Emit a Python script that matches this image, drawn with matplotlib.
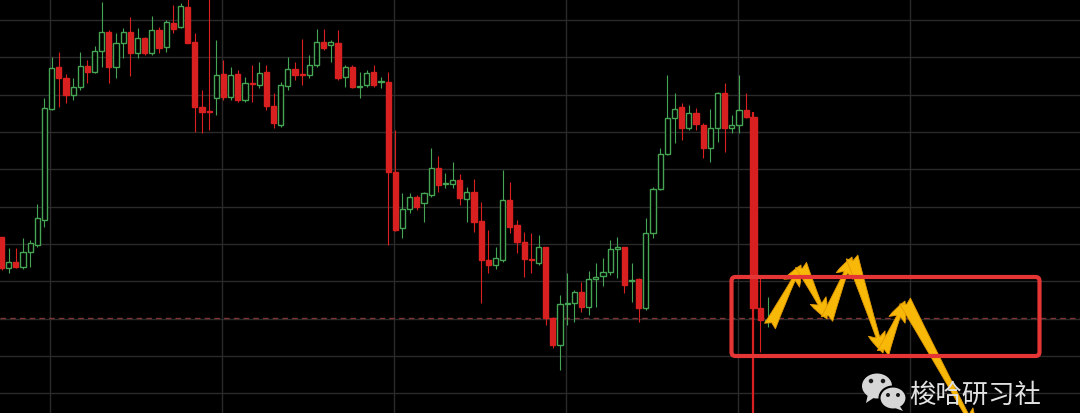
import matplotlib
matplotlib.use('Agg')
import matplotlib.pyplot as plt
from matplotlib.patches import Rectangle, FancyBboxPatch, Ellipse, Polygon
from matplotlib.transforms import IdentityTransform

# ---- data (price units, arbitrary scale) ----
opens = [176, 145, 151, 146, 161, 168, 193, 304, 346, 335,
         318, 326, 347, 341, 362, 381, 346, 370, 381, 360,
         375, 360, 383, 366, 390, 386, 406, 371, 306, 302,
         315, 339, 316, 339, 313, 330, 328, 341, 307, 288,
         327, 344, 339, 338, 348, 371, 368, 370, 336, 346,
         326.5, 328, 341, 331.5, 331, 241, 185, 204, 216, 210,
         218, 245, 229.5, 229, 233, 214, 221, 192, 153, 148,
         153, 213, 188, 171, 154.5, 150, 166, 95, 68, 109.5,
         110, 121, 106, 134, 137, 141, 164, 166, 132.5, 134,
         105, 180, 224, 259, 295, 306, 285, 300, 288, 265,
         285, 320, 285, 288, 303, 296, 105, 92.5]
highs = [176, 165, 165, 175, 173, 209, 315, 356, 361, 339,
         335, 361, 353, 367, 411, 383, 380, 385, 396, 385,
         376, 397, 386, 393, 408, 410, 415, 380, 323, 420,
         373, 353, 346, 343, 336, 348, 351, 348, 320, 331,
         356, 351, 374, 358, 384, 384, 373, 383, 348, 348,
         341, 343, 348, 336, 341, 283, 220, 220, 218, 221,
         265, 257, 240, 251, 239, 226, 234, 211, 183, 166,
         243, 231, 193, 181, 180, 178, 166, 96, 118, 140,
         123, 131, 142, 150, 155, 173, 176, 166, 150, 135,
         195, 226, 265, 338, 320, 310, 308, 305, 290, 304,
         321, 330, 298, 338, 320, 301, 135, 116]
lows = [143, 140, 145, 144, 146, 166, 186, 303, 306, 310,
        313, 323, 330, 340, 346, 330, 335, 355, 337, 355,
        358, 358, 360, 361, 380, 385, 370, 281, 280, 283,
        298, 313, 313, 311, 311, 311, 325, 303, 285, 286,
        323, 333, 328, 335, 346, 363, 351, 333, 326, 325,
        315, 326, 326, 325, 168, 182, 175, 200, 203, 191,
        216, 221, 225, 225, 208, 191, 181, 110, 140, 144,
        151, 180, 160, 136, 140, 148, 88, 65, 43, 88,
        91, 101, 98, 106, 127, 138, 135, 120, 111, 91,
        103, 175, 223, 258, 270, 273, 283, 283, 255, 251,
        271, 261, 280, 280, 295, -10, 61, 86]
closes = [145, 151, 146, 161, 170, 195, 305, 345, 335, 318,
          326, 347, 341, 362, 381, 346, 370, 381, 360, 375,
          360, 383, 365, 391, 384, 407, 370, 306, 301, 301,
          338, 316, 338, 313, 330, 329, 340, 307, 290, 328,
          344, 338, 338, 348, 371, 365, 371, 335, 346, 326,
          327.5, 340, 328, 332.5, 241, 183, 204, 216, 206, 220,
          245, 228, 230.5, 233, 215, 221, 191, 153, 148, 155,
          213, 186, 171, 154, 153.5, 166, 95, 68, 109, 110.5,
          121, 106, 134, 136, 141, 164, 166, 128, 133.5, 105,
          180, 224, 259, 295, 304, 285, 300, 289, 265, 285,
          320, 285, 288, 303, 296, 105, 93, 93.5]
support_level = 95
watermark = '梭哈研习社'

# ---- style ----
W, H, DPI = 1080, 413, 100
GREEN = '#45a554'
RED = '#d82020'
BG = '#000000'
GRID = '#2a2a2a'
PX_PER_CANDLE = 7.16
X0_PX = 1.5

fig = plt.figure(figsize=(W / DPI, H / DPI), dpi=DPI, facecolor=BG)
ax = fig.add_axes([0, 0, 1, 1])
ax.set_facecolor(BG)
ax.set_xlim(-X0_PX / PX_PER_CANDLE, (W - X0_PX) / PX_PER_CANDLE)
ax.set_ylim(0, H)
ax.axis('off')

# grid
for k in range(11):
    ax.axhline(393 - k * 37.33, color=GRID, lw=1.0, zorder=0)
for k in range(6):
    ax.axvline(6.77 + 24.02 * k, color=GRID, lw=1.0, zorder=0)

# dashed support line
ax.axhline(support_level, color='#7d3434', lw=1.0, ls=(0, (4, 3)), zorder=1)

# candles
for i, (o, h, l, c) in enumerate(zip(opens, highs, lows, closes)):
    up = c >= o
    col = GREEN if up else RED
    big = (h - l) > 250
    bw = 0.95 if big else 0.72
    wlw = 1.6 if big else 0.8
    ax.vlines(i, l, h, color=col, lw=wlw, zorder=2)
    bottom = min(o, c)
    height = max(abs(c - o), 1.0)
    ax.add_patch(Rectangle((i - bw / 2, bottom), bw, height,
                           facecolor=BG if up else col,
                           edgecolor=col, lw=1.0, zorder=3))

# red box (pixel coordinates)
box = FancyBboxPatch((731.5, H - 356), 308, 79,
                     boxstyle='round,pad=0,rounding_size=4',
                     lw=3.0, ec='#e53535', fc='none',
                     transform=IdentityTransform(), zorder=5)
fig.add_artist(box)

# zigzag arrows (pixel coords, top-left origin)
pts = [(770, 326), (801, 265), (827, 319), (852, 257), (883, 353),
       (905, 301), (975, 430)]
for (x1, y1), (x2, y2) in zip(pts[:-1], pts[1:]):
    ax.annotate('', xy=(x2, H - y2), xytext=(x1, H - y1),
                xycoords='figure pixels', textcoords='figure pixels',
                annotation_clip=False,
                arrowprops=dict(arrowstyle='fancy,head_length=0.7,head_width=0.6,tail_width=0.42',
                                fc='#f7b808', ec='#e39a00', lw=0.6,
                                mutation_scale=21, shrinkA=0, shrinkB=0),
                zorder=6)

# WeChat-like logo
idt = IdentityTransform()
logo_col = '#d6d6d6'
fig.add_artist(Polygon([(868, H - 394), (866, H - 403), (875, H - 397)], closed=True,
                       fc=logo_col, ec='none', transform=idt))
fig.add_artist(Ellipse((877, H - 386), 30, 25, fc=logo_col, ec='none', transform=idt))
for ex in (871, 883):
    fig.add_artist(Ellipse((ex, H - 381), 4.5, 4.5, fc='#1a1a1a', ec='none', transform=idt))
fig.add_artist(Ellipse((893, H - 398), 27, 23, fc=logo_col, ec=BG, lw=1.5, transform=idt))
fig.add_artist(Polygon([(899, H - 405), (903, H - 411), (895, H - 408)], closed=True,
                       fc=logo_col, ec='none', transform=idt))
for ex in (888, 898):
    fig.add_artist(Ellipse((ex, H - 395), 4, 4, fc='#1a1a1a', ec='none', transform=idt))

fig.text(909 / W, 1 - 395 / H, watermark, fontsize=19, color='#e2e2e2',
         family=['Noto Sans CJK SC', 'DejaVu Sans'], ha='left', va='center')

fig.savefig('out.png', dpi=DPI, facecolor=BG)
